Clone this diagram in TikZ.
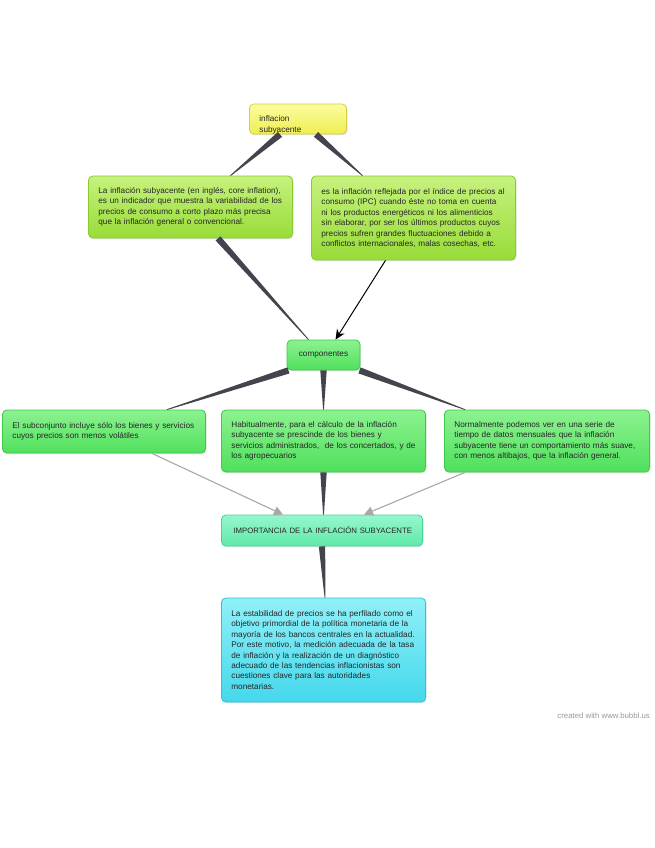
\documentclass[tikz,border=0pt]{standalone}
\usepackage{fontspec}
\setmainfont{Liberation Sans}
\usetikzlibrary{calc,shadows,arrows.meta}
\definecolor{txt}{HTML}{262626}
\definecolor{wedgec}{HTML}{44444E}
\definecolor{grayarr}{HTML}{A8A8A8}
\newcommand\wedgeline[2]{%
  \fill[wedgec] ($(#1)!3.2pt!90:(#2)$) -- ($(#1)!3.2pt!-90:(#2)$) --
    ($(#2)!0.4pt!90:(#1)$) -- ($(#2)!0.4pt!-90:(#1)$) -- cycle;}
\tikzset{
  bubble/.style={draw, rounded corners=4.5pt, line width=0.8pt, inner xsep=10pt, inner ysep=3pt,
    font=\fontsize{8.2}{10.4}\selectfont, text=txt, align=left, anchor=center,
    drop shadow={opacity=0.22, shadow xshift=0.8pt, shadow yshift=-1.2pt}},
  ybox/.style={bubble, top color=yellowtop, bottom color=yellowbot, draw=yellowbd},
  lbox/.style={bubble, top color=limetop, bottom color=limebot, draw=limebd},
  gbox/.style={bubble, top color=greentop, bottom color=greenbot, draw=greenbd},
  mbox/.style={bubble, top color=minttop, bottom color=mintbot, draw=mintbd},
  cbox/.style={bubble, top color=cyantop, bottom color=cyanbot, draw=cyanbd},
  grayarrow/.style={draw=grayarr, line width=1.1pt, -{Triangle[length=9pt,width=9pt]}},
  blackarrow/.style={draw=black, line width=1pt, -{Stealth[length=10pt,width=9pt]}},
}
\definecolor{yellowtop}{HTML}{FCFCA0}
\definecolor{yellowbot}{HTML}{EEEE52}
\definecolor{yellowbd}{HTML}{D8D040}
\definecolor{limetop}{HTML}{C6F27E}
\definecolor{limebot}{HTML}{98DC38}
\definecolor{limebd}{HTML}{88CC30}
\definecolor{greentop}{HTML}{8CF290}
\definecolor{greenbot}{HTML}{50E05C}
\definecolor{greenbd}{HTML}{3CC84A}
\definecolor{minttop}{HTML}{96F6CC}
\definecolor{mintbot}{HTML}{60EAAA}
\definecolor{mintbd}{HTML}{48D496}
\definecolor{cyantop}{HTML}{90F0F8}
\definecolor{cyanbot}{HTML}{44D8EC}
\definecolor{cyanbd}{HTML}{30C0D8}
\begin{document}
\begin{tikzpicture}[x=1pt,y=-1pt]
\useasboundingbox[fill=white] (0,0) rectangle (655,848);
% nodes
\node[ybox, text width=77.2pt, minimum height=30pt] (infl) at (298,119)
  {\raisebox{-8pt}[0pt][0pt]{\parbox{77pt}{\fontsize{8.2}{11.5}\selectfont\hspace*{0pt}inflacion\\\hspace*{0pt}subyacente}}};
\node[lbox, text width=184.2pt, minimum height=62pt] (def1) at (190.5,207)
  {La inflación subyacente (en inglés, core inflation),\\
   es un indicador que muestra la variabilidad de los\\
   precios de consumo a corto plazo más precisa\\
   que la inflación general o convencional.};
\node[lbox, text width=184.2pt, minimum height=84pt] (def2) at (413.5,218)
  {es la inflación reflejada por el índice de precios al\\
   consumo (IPC) cuando éste no toma en cuenta\\
   ni los productos energéticos ni los alimenticios\\
   sin elaborar, por ser los últimos productos cuyos\\
   precios sufren grandes fluctuaciones debido a\\
   conflictos internacionales, malas cosechas, etc.};
\node[gbox, align=center, minimum width=73pt, minimum height=30pt] (comp) at (323.5,355) {componentes};
\node[gbox, text width=183.2pt, minimum height=43pt] (sub) at (104,431.5)
  {El subconjunto incluye sólo los bienes y servicios\\
   cuyos precios son menos volátiles};
\node[gbox, text width=184.2pt, minimum height=62pt] (hab) at (323.5,441)
  {Habitualmente, para el cálculo de la inflación\\
   subyacente se prescinde de los bienes y\\
   servicios administrados,\ \ de los concertados, y de\\
   los agropecuarios};
\node[gbox, text width=185.2pt, minimum height=62pt] (norm) at (547,441)
  {Normalmente podemos ver en una serie de\\
   tiempo de datos mensuales que la inflación\\
   subyacente tiene un comportamiento más suave,\\
   con menos altibajos, que la inflación general.};
\node[mbox, text width=181.2pt, minimum height=31pt, inner xsep=10pt] (imp) at (322,530.5)
  {\fontsize{7.8}{10}\selectfont\hspace*{2pt}\mbox{IMPORTANCIA DE LA INFLACIÓN SUBYACENTE}};
\node[cbox, text width=184.2pt, minimum height=104pt] (estab) at (323.5,650)
  {La estabilidad de precios se ha perfilado como el\\
   objetivo primordial de la política monetaria de la\\
   mayoría de los bancos centrales en la actualidad.\\
   Por este motivo, la medición adecuada de la tasa\\
   de inflación y la realización de un diagnóstico\\
   adecuado de las tendencias inflacionistas son\\
   cuestiones clave para las autoridades\\
   monetarias.};
\node[anchor=east, text=black!40, font=\fontsize{7.8}{9}\selectfont, inner sep=0pt] (credit) at (650,716) {created with www.bubbl.us};
% connector end points
\coordinate (e1a) at ([xshift=-18pt]infl.south);
\coordinate (e1b) at ([xshift=40pt]def1.north);
\coordinate (e2a) at ([xshift=18pt]infl.south);
\coordinate (e2b) at ([xshift=-51pt]def2.north);
\coordinate (e3a) at ([xshift=27.5pt]def1.south);
\coordinate (e3b) at ([xshift=-15pt]comp.north);
\coordinate (e4a) at ([xshift=-28pt]def2.south);
\coordinate (e4b) at ([xshift=12pt]comp.north);
\coordinate (e5a) at ([xshift=-35pt]comp.south);
\coordinate (e5b) at ([xshift=63pt]sub.north);
\coordinate (e6a) at (comp.south);
\coordinate (e6b) at (hab.north);
\coordinate (e7a) at ([xshift=36pt]comp.south);
\coordinate (e7b) at ([xshift=-82pt]norm.north);
\coordinate (e8a) at ([xshift=48pt]sub.south);
\coordinate (e8b) at ([xshift=-39pt]imp.north);
\coordinate (e9a) at (hab.south);
\coordinate (e9b) at ([xshift=1.5pt]imp.north);
\coordinate (e10a) at ([xshift=-82pt]norm.south);
\coordinate (e10b) at ([xshift=42pt]imp.north);
\coordinate (e11a) at (imp.south);
\coordinate (e11b) at ([xshift=1.5pt]estab.north);
% connectors
\wedgeline{e1a}{e1b}
\wedgeline{e2a}{e2b}
\wedgeline{e3a}{e3b}
\wedgeline{e5a}{e5b}
\wedgeline{e6a}{e6b}
\wedgeline{e7a}{e7b}
\wedgeline{e9a}{e9b}
\wedgeline{e11a}{e11b}
\draw[blackarrow] (e4a) -- (e4b);
\draw[grayarrow] (e8a) -- (e8b);
\draw[grayarrow] (e10a) -- (e10b);
\end{tikzpicture}
\end{document}
